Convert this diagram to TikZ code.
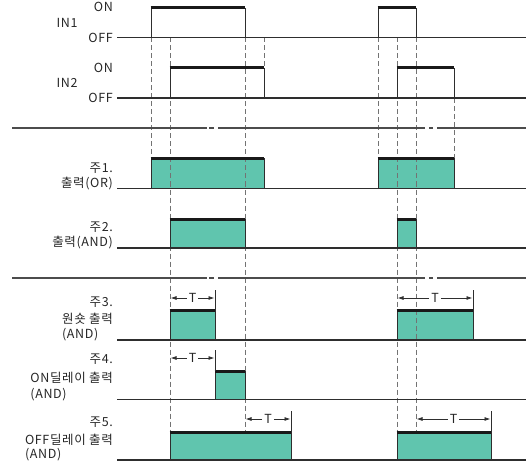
\documentclass[tikz,border=0pt]{standalone}
\usepackage{fontspec}
\setmainfont{Noto Sans CJK KR}[LetterSpace=5]
\usetikzlibrary{arrows.meta}
\definecolor{pulsegreen}{HTML}{60C5AE}
\definecolor{ink}{HTML}{2E2E2E}

\begin{document}
\begin{tikzpicture}[x=1pt, y=-1pt]
        \tikzset{base/.style = {line width=1.4pt, draw=ink}}
        \tikzset{sep/.style = {line width=1.4pt, draw=black!70}}
        \tikzset{guide/.style = {line width=0.8pt, draw=black!55, dash pattern=on 5pt off 3pt}}
        \tikzset{edge/.style = {line width=0.8pt, draw=ink}}
        \tikzset{level/.style = {line width=3pt, draw=black!90}}
        \tikzset{lbl/.style = {inner sep=0pt, text=black!85, font=\fontsize{12.5}{14}\selectfont}}
        \tikzset{tarr/.style = {-{Latex[length=6pt,width=4pt]}, line width=0.8pt, draw=ink}}

        \useasboundingbox (0,0) rectangle (526,462);

        % green pulses of the outputs
        \foreach \a/\b/\t/\s in {151/264/158.5/188.5, 378/454/158.5/188.5,
                                 170/245/219/248, 397/416/219/248,
                                 170/215/310.5/340, 397/473/310.5/340,
                                 215/245/371/399.5,
                                 170/291/432/460, 397/491/432/460}
            \fill[pulsegreen] (\a,\t) rectangle (\b,\s);

        % dashed guides
        \foreach \x/\ya/\yb in {151/37.5/158.5, 170/37.5/432, 245/37.5/432, 264/37.5/68,
                                378/37.5/158.5, 397/37.5/432, 416/37.5/432, 454/98/158.5}
            \draw[guide] (\x,\ya) -- (\x,\yb);

        % base lines
        \foreach \y in {37.5, 98, 188.5, 248, 340, 399.5, 460}
            \draw[base] (117,\y) -- (526,\y);

        % pulse edges and levels
        \foreach \a/\b/\t/\s in {151/245/8/37.5, 378/416/8/37.5,
                                 170/264/68/98, 397/454/68/98,
                                 151/264/158.5/188.5, 378/454/158.5/188.5,
                                 170/245/219/248, 397/416/219/248,
                                 170/215/310.5/340, 397/473/310.5/340,
                                 215/245/371/399.5,
                                 170/291/432/460, 397/491/432/460}
        {
            \draw[edge] (\a,\s) -- (\a,\t);
            \draw[edge] (\b,\s) -- (\b,\t);
            \draw[level] (\a-0.4,\t) -- (\b+0.4,\t);
        }

        % separators
        \foreach \y in {128, 278}
        {
            \draw[sep] (12,\y) -- (207,\y);
            \draw[sep] (209,\y) -- (214,\y);
            \draw[sep] (218,\y) -- (425,\y);
            \draw[sep] (429,\y) -- (433,\y);
            \draw[sep] (437,\y) -- (526,\y);
        }

        % T spans
        \foreach \a/\b/\y/\t/\n in {170/215/298/310.5/ta, 397/473/298/310.5/tb,
                                    170/215/358/371/tc,
                                    245/291/419/432/td, 416/491/419/432/te}
        {
            \node[lbl, fill=white, inner xsep=2pt] (\n) at ({(\a+\b)/2},\y) {T};
            \draw[tarr] (\n.west) -- (\a+0.5,\y);
            \draw[tarr] (\n.east) -- (\b-0.5,\y);
            \draw[edge] (\b,\y-8) -- (\b,\t);
        }

        % inputs
        \node[lbl] (in1) at (67,23) {IN1};
        \node[lbl, anchor=east] (on1) at (113,7) {ON};
        \node[lbl, anchor=east] (off1) at (113,38) {OFF};
        \node[lbl] (in2) at (67,83) {IN2};
        \node[lbl, anchor=east] (on2) at (113,68) {ON};
        \node[lbl, anchor=east] (off2) at (113,98) {OFF};

        % outputs
        \node[lbl, anchor=east] (n1) at (113,168) {주1.};
        \node[lbl, anchor=east] (o1) at (113,184) {출력(OR)};
        \node[lbl, anchor=east] (n2) at (113,227) {주2.};
        \node[lbl, anchor=east] (o2) at (113,243) {출력(AND)};
        \node[lbl, anchor=east] (n3) at (113,302) {주3.};
        \node[lbl, anchor=east] (o3) at (113,319) {원숏 출력};
        \node[lbl, anchor=west] (a3) at ([yshift=-16pt]o3.west) {(AND)};
        \node[lbl, anchor=east] (n4) at (113,359) {주4.};
        \node[lbl, anchor=east] (o4) at (113,378) {ON딜레이 출력};
        \node[lbl, anchor=west] (a4) at ([yshift=-17pt]o4.west) {(AND)};
        \node[lbl, anchor=east] (n5) at (113,422) {주5.};
        \node[lbl, anchor=east] (o5) at (113,440) {OFF딜레이 출력};
        \node[lbl, anchor=west] (a5) at ([yshift=-15pt]o5.west) {(AND)};

        \end{tikzpicture}
\end{document}
